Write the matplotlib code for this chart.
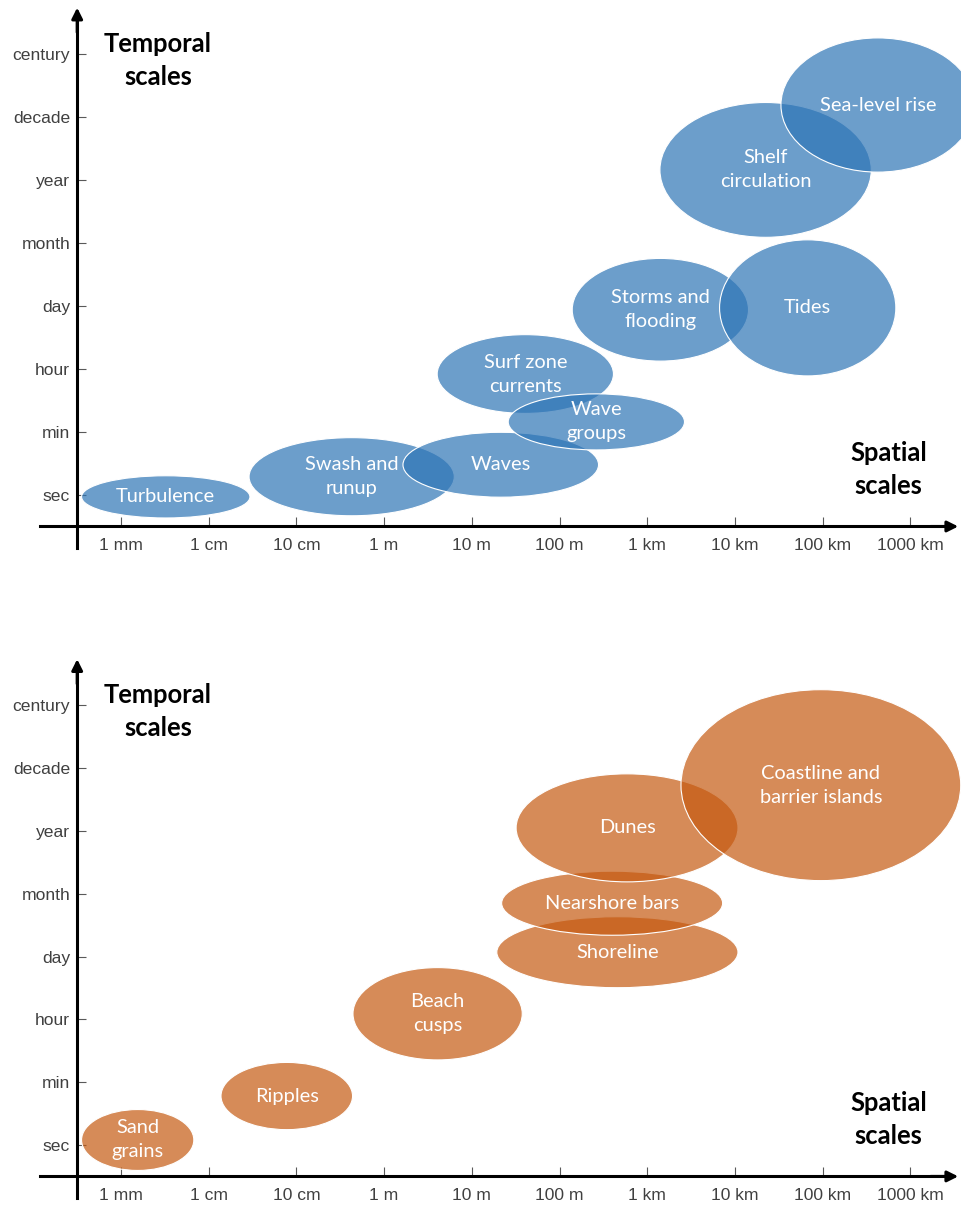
import matplotlib
matplotlib.use('Agg')
import matplotlib.pyplot as plt
from matplotlib.patches import Ellipse

# scale labels
time_labels = ['sec', 'min', 'hour', 'day', 'month', 'year', 'decade', 'century']
space_labels = ['1 mm', '1 cm', '10 cm', '1 m', '10 m', '100 m', '1 km', '10 km', '100 km', '1000 km']

# hydrodynamic processes (x: decades of length from 1 mm, y: time step index)
hydro_names = ['Turbulence', 'Swash and\nrunup', 'Waves', 'Surf zone\ncurrents', 'Wave\ngroups',
               'Storms and\nflooding', 'Tides', 'Shelf\ncirculation', 'Sea-level rise']
hydro_x = [0.51, 2.63, 4.33, 4.61, 5.42, 6.15, 7.83, 7.35, 8.63]
hydro_y = [-0.03, 0.29, 0.48, 1.92, 1.16, 2.94, 2.97, 5.16, 6.19]
hydro_w = [1.92, 2.34, 2.23, 2.01, 2.01, 2.01, 2.01, 2.41, 2.21]
hydro_h = [0.67, 1.24, 1.03, 1.25, 0.89, 1.63, 2.16, 2.14, 2.13]

# morphological features
morph_names = ['Sand\ngrains', 'Ripples', 'Beach\ncusps', 'Shoreline', 'Nearshore bars',
               'Dunes', 'Coastline and\nbarrier islands']
morph_x = [0.19, 1.89, 3.61, 5.66, 5.60, 5.77, 7.98]
morph_y = [0.08, 0.78, 2.09, 3.07, 3.85, 5.05, 5.73]
morph_w = [1.28, 1.50, 1.93, 2.75, 2.52, 2.53, 3.19]
morph_h = [0.97, 1.07, 1.47, 1.13, 1.02, 1.72, 3.04]

label_font = 'Lato'
tick_font = 'Liberation Sans'

fig = plt.figure(figsize=(9.61, 12.05), dpi=100)

panels = [
    # axes rect, ylim, names, x, y, w, h, colour
    ([0, 1 - 600 / 1205, 1, 600 / 1205], (-1.667, 7.857),
     hydro_names, hydro_x, hydro_y, hydro_w, hydro_h, '#2E75B6'),
    ([0, 0, 1, 605 / 1205], (-0.955, 8.678),
     morph_names, morph_x, morph_y, morph_w, morph_h, '#C55A11'),
]

for rect, ylim, names, xs, ys, ws, hs, colour in panels:
    ax = fig.add_axes(rect)
    ax.set_xlim(-1.38, 9.578)
    ax.set_ylim(*ylim)

    rgb = matplotlib.colors.to_rgb(colour)
    for name, x, y, w, h in zip(names, xs, ys, ws, hs):
        e = Ellipse((x, y), w, h, facecolor=rgb + (0.7,), edgecolor='white', lw=0.8, zorder=2)
        ax.add_patch(e)
        ax.text(x, y, name, ha='center', va='center', color='white', fontsize=14.4,
                family=label_font, linespacing=1.5, zorder=5)

    # axes as spines with arrows
    for s in ['top', 'right']:
        ax.spines[s].set_visible(False)
    ax.spines['left'].set_position(('data', -0.5))
    ax.spines['bottom'].set_position(('data', -0.5))
    ax.spines['left'].set_bounds(-0.84, 7.5)
    ax.spines['bottom'].set_bounds(-0.92, 9.4)
    for s in ['left', 'bottom']:
        ax.spines[s].set_linewidth(2.2)
        ax.spines[s].set_zorder(3)
    ax.annotate('', xy=(-0.5, 7.78), xytext=(-0.5, 7.3),
                arrowprops=dict(arrowstyle='-|>', color='black', lw=2.2, mutation_scale=16))
    ax.annotate('', xy=(9.578, -0.5), xytext=(9.2, -0.5),
                arrowprops=dict(arrowstyle='-|>', color='black', lw=2.2, mutation_scale=16))

    ax.set_xticks(range(len(space_labels)))
    ax.set_xticklabels(space_labels, family=tick_font, fontsize=12.6, color='#404040')
    ax.set_yticks(range(len(time_labels)))
    ax.set_yticklabels(time_labels, family=tick_font, fontsize=12.6, color='#404040')
    ax.tick_params(axis='x', direction='in', length=6.5, width=0.8, color='#595959', pad=8.5)
    ax.tick_params(axis='y', direction='in', length=6.5, width=0.8, color='#595959', pad=5)
    ax.patch.set_visible(False)

    ax.text(0.42, 6.9, 'Temporal\nscales', ha='center', va='center', fontsize=18.4,
            family=label_font, fontweight='bold', linespacing=1.45)
    ax.text(8.75, 0.4, 'Spatial\nscales', ha='center', va='center', fontsize=18.4,
            family=label_font, fontweight='bold', linespacing=1.45)

fig.savefig('out.png', dpi=100)
plt.close()
